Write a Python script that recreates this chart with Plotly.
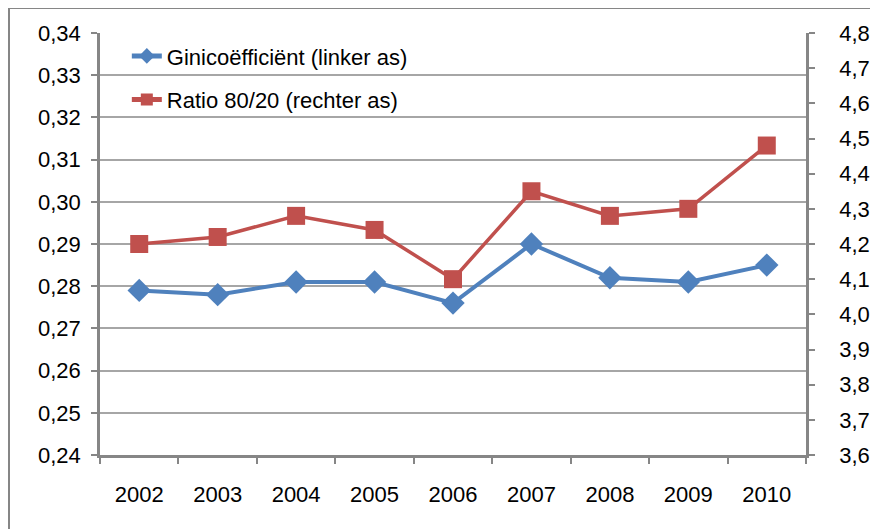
import plotly.graph_objects as go

years = ["2002", "2003", "2004", "2005", "2006", "2007", "2008", "2009", "2010"]
gini = [0.279, 0.278, 0.281, 0.281, 0.276, 0.290, 0.282, 0.281, 0.285]
ratio_80_20 = [4.20, 4.22, 4.28, 4.24, 4.10, 4.35, 4.28, 4.30, 4.48]
left_ticks = [0.24, 0.25, 0.26, 0.27, 0.28, 0.29, 0.30, 0.31, 0.32, 0.33, 0.34]
right_ticks = [3.6, 3.7, 3.8, 3.9, 4.0, 4.1, 4.2, 4.3, 4.4, 4.5, 4.6, 4.7, 4.8]

blue = "#4F81BD"
red = "#C0504D"
axis_gray = "#868686"
grid_gray = "#A6A6A6"
font = "Liberation Sans, Arial, sans-serif"
fs = 22

fig = go.Figure()
fig.add_trace(go.Scatter(
    x=years, y=gini, name="Ginicoëfficiënt (linker as)", mode="lines+markers",
    line=dict(color=blue, width=4),
    marker=dict(symbol="diamond", size=18, color=blue),
    yaxis="y", legendgroup="g1",
))
fig.add_trace(go.Scatter(
    x=years, y=ratio_80_20, name="Ratio 80/20 (rechter as)", mode="lines+markers",
    line=dict(color=red, width=3.5),
    marker=dict(symbol="square", size=18, color=red),
    yaxis="y2", legendgroup="g2",
))

fig.update_layout(
    width=878, height=529,
    margin=dict(l=92, r=80, t=25, b=82, autoexpand=False),
    paper_bgcolor="white", plot_bgcolor="white",
    separators=", ",
    font=dict(family=font, size=fs, color="#000000"),
    xaxis=dict(
        type="category", range=[-0.5, 8.5], tickson="boundaries",
        showline=True, linecolor=axis_gray, linewidth=2.5,
        ticks="outside", ticklen=6, tickcolor=axis_gray, tickwidth=1.5,
        showgrid=False, zeroline=False, ticklabelstandoff=18,
        tickfont=dict(size=fs), automargin=False,
    ),
    yaxis=dict(
        range=[0.24, 0.34], tickvals=left_ticks, tickformat=".2f",
        showline=True, linecolor=axis_gray, linewidth=2.5,
        ticks="outside", ticklen=6, tickcolor=axis_gray, tickwidth=1.5,
        showgrid=True, gridcolor=grid_gray, gridwidth=1.5, zeroline=False,
        tickfont=dict(size=fs), ticklabelstandoff=6, automargin=False,
    ),
    yaxis2=dict(
        range=[3.6, 4.8], tickvals=right_ticks, tickformat=".1f",
        overlaying="y", side="right",
        showline=True, linecolor=axis_gray, linewidth=2.5,
        ticks="outside", ticklen=6, tickcolor=axis_gray, tickwidth=1.5,
        showgrid=False, zeroline=False,
        tickfont=dict(size=fs), ticklabelstandoff=20, automargin=False,
    ),
    legend=dict(
        x=0.038, y=0.995, xanchor="left", yanchor="top",
        bgcolor="rgba(0,0,0,0)", font=dict(size=fs),
        traceorder="grouped", tracegroupgap=12, itemsizing="constant",
    ),
    showlegend=True,
    shapes=[dict(
        type="rect", xref="paper", yref="paper",
        x0=-0.1289, x1=1.12, y0=-0.2, y1=1.0592,
        line=dict(color=axis_gray, width=2), layer="below",
    )],
)

fig.write_html("out.html")
